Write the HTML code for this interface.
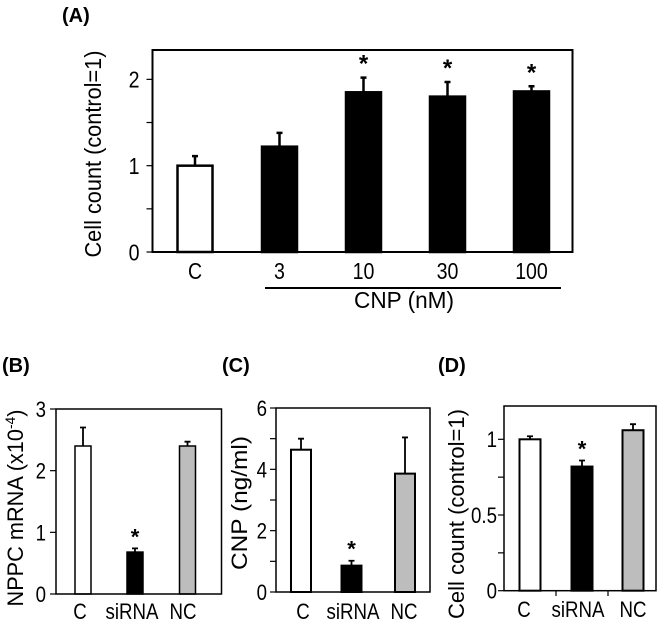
<!DOCTYPE html>
<html><head><meta charset="utf-8"><style>
html,body{margin:0;padding:0;background:#fff;}
svg{display:block;font-family:"Liberation Sans",Arial,sans-serif;}
</style></head><body>
<svg id="chart" width="661" height="626" viewBox="0 0 661 626" xmlns="http://www.w3.org/2000/svg">
<g id="root"></g>
</svg>
<script>
// Panel A data
const aCategories = ["C","3","10","30","100"];
const aValues = [1.0, 1.22, 1.85, 1.80, 1.86];
const aErrors = [0.11, 0.16, 0.17, 0.17, 0.06];
const aSig = [false, false, true, true, true];
const aTicks = [0, 0.5, 1, 1.5, 2];
const aTickLabels = ["0","","1","","2"];
// Panel B data
const bCategories = ["C","siRNA","NC"];
const bValues = [2.4, 0.68, 2.4];
const bErrors = [0.3, 0.06, 0.07];
const bSig = [false, true, false];
const bTicks = [0,1,2,3];
const bTickLabels = ["0","1","2","3"];
// Panel C data
const cCategories = ["C","siRNA","NC"];
const cValues = [4.64, 0.86, 3.86];
const cErrors = [0.36, 0.16, 1.18];
const cSig = [false, true, false];
const cTicks = [0,1,2,3,4,5,6];
const cTickLabels = ["0","","2","","4","","6"];
// Panel D data
const dCategories = ["C","siRNA","NC"];
const dValues = [1.0, 0.82, 1.06];
const dErrors = [0.02, 0.04, 0.04];
const dSig = [false, true, false];
const dTicks = [0,0.25,0.5,0.75,1];
const dTickLabels = ["0","","0.5","","1"];

const NS="http://www.w3.org/2000/svg";
const root=document.getElementById('root');
const condense=[];
function mk(tag,attrs,parent,text){const e=document.createElementNS(NS,tag);for(const k in attrs)e.setAttribute(k,attrs[k]);if(text!==undefined)e.textContent=text;(parent||root).appendChild(e);return e;}

function panel(cfg){
  const g=mk('g',{});
  
  
  const y=v=>cfg.y0-(v-0)*(cfg.y0-cfg.yTop)/cfg.yMax;
  cfg.vals.forEach((v,i)=>{
    const cx=cfg.centers[i], w=cfg.barW;
    const err=mk('path',{d:`M${cx} ${y(v)} V${y(v+cfg.errs[i])} M${cx-3} ${y(v+cfg.errs[i])} H${cx+3}`,stroke:'#000','stroke-width':cfg.errW,fill:'none'},g);
    
    
    const b=mk('rect',{x:cx-w/2,y:y(v),width:w,height:cfg.y0-y(v),fill:cfg.fills[i],stroke:'#000','stroke-width':cfg.barStroke},g);
    
    
    if(cfg.sig[i]){
      const s=mk('text',{x:cx,y:y(v+cfg.errs[i])-cfg.starGap,'text-anchor':'middle','font-size':cfg.starSize,'font-weight':'bold'},g,'*');
      
      
    }
    const t=mk('text',{x:cfg.labelX[i],y:cfg.labelY,'text-anchor':'middle','font-size':cfg.fs},g,cfg.cats[i]);
    
    
    condense.push(t);
  });
  const f=mk('rect',{x:cfg.left,y:cfg.yTop,width:cfg.right-cfg.left,height:cfg.y0-cfg.yTop,fill:'none',stroke:'#000','stroke-width':cfg.frameW},g);
  
  
  cfg.ticks.forEach((t,i)=>{
    const tk=mk('line',{x1:cfg.left-6,x2:cfg.left,y1:y(t),y2:y(t),stroke:'#000','stroke-width':1.2},g);
    
    
    if(cfg.tickLabels[i]){
      const tl=mk('text',{x:cfg.left-cfg.tlGap,y:y(t)+cfg.fs*0.36,'text-anchor':'end','font-size':cfg.fs},g,cfg.tickLabels[i]);
      
      
      condense.push(tl);
    }
  });
  if(cfg.ylabel){
    const yl=mk('text',{transform:`translate(${cfg.ylX},${cfg.ylY}) rotate(-90)`,'text-anchor':'middle','font-size':cfg.fs,textLength:cfg.ylLen,lengthAdjust:'spacingAndGlyphs'},g,cfg.ylabel);
    
    
  }
  const pl=mk('text',{x:cfg.plX,y:cfg.plY,'font-size':20,'font-weight':'bold'},g,cfg.plabel);
  
  
  return {g,y};
}

panel({name:'panel-a',cats:aCategories,vals:aValues,errs:aErrors,sig:aSig,ticks:aTicks,tickLabels:aTickLabels,
  left:152.5,right:572.5,yTop:50,y0:252,yMax:2.34,centers:[195,279.5,363.5,447.5,531.5],barW:35,
  fills:['#fff','#000','#000','#000','#000'],barStroke:2.5,errW:2.5,frameW:2,starGap:6,starSize:24,
  labelX:[195,279.5,363.5,447.5,531.5],labelY:279,fs:23,tlGap:13,ylX:101,ylY:154,ylLen:207,
  ylabel:'Cell count (control=1)',plabel:'(A)',plX:62,plY:22});
const ul=mk('line',{x1:265,x2:561,y1:288,y2:288,stroke:'#000','stroke-width':2});


const cnp=mk('text',{x:404,y:308,'text-anchor':'middle','font-size':23,textLength:100,lengthAdjust:'spacingAndGlyphs'},root,'CNP (nM)');



panel({name:'panel-b',cats:bCategories,vals:bValues,errs:bErrors,sig:bSig,ticks:bTicks,tickLabels:bTickLabels,
  left:56,right:221.5,yTop:409,y0:594,yMax:3,centers:[83,135,187.5],barW:16,
  fills:['#fff','#000','#bdbdbd'],barStroke:1.5,errW:1.8,frameW:1.5,starGap:4,starSize:22,
  labelX:[80,132,183],labelY:619,fs:22,tlGap:10,ylX:22,ylY:503,ylLen:200,
  ylabel:'',plabel:'(B)',plX:2,plY:372});
const byl=mk('text',{transform:'translate(23,508) rotate(-90)','text-anchor':'middle','font-size':22,textLength:197,lengthAdjust:'spacingAndGlyphs'});


mk('tspan',{},byl,'NPPC mRNA (x10');
mk('tspan',{dy:-8,'font-size':14},byl,'-4');
mk('tspan',{dy:8},byl,')');

panel({name:'panel-c',cats:cCategories,vals:cValues,errs:cErrors,sig:cSig,ticks:cTicks,tickLabels:cTickLabels,
  left:276,right:430,yTop:408,y0:592,yMax:6,centers:[301,351.5,405],barW:20,
  fills:['#fff','#000','#bdbdbd'],barStroke:2,errW:1.8,frameW:1.5,starGap:4,starSize:22,
  labelX:[303,353,404],labelY:619,fs:22,tlGap:9,ylX:247,ylY:503,ylLen:134,
  ylabel:'CNP (ng/ml)',plabel:'(C)',plX:222,plY:372});

panel({name:'panel-d',cats:dCategories,vals:dValues,errs:dErrors,sig:dSig,ticks:dTicks,tickLabels:dTickLabels,
  left:504,right:656,yTop:406,y0:590.7,yMax:1.22,centers:[530,582,633],barW:21,
  fills:['#fff','#000','#bdbdbd'],barStroke:2,errW:1.8,frameW:1.5,starGap:4,starSize:22,
  labelX:[524,578,633],labelY:617,fs:22,tlGap:7,ylX:464,ylY:514,ylLen:210,
  ylabel:'Cell count (control=1)',plabel:'(D)',plX:438,plY:372});
[556,608].forEach(x=>{
  const t=mk('line',{x1:x,x2:x,y1:590.7,y2:596,stroke:'#000','stroke-width':1.2});
  
  
});
condense.forEach(t=>{
  const L=t.getComputedTextLength();
  if(L>0){t.setAttribute('textLength',(L*0.85).toFixed(1));t.setAttribute('lengthAdjust','spacingAndGlyphs');}
});
</script>
</body></html>
